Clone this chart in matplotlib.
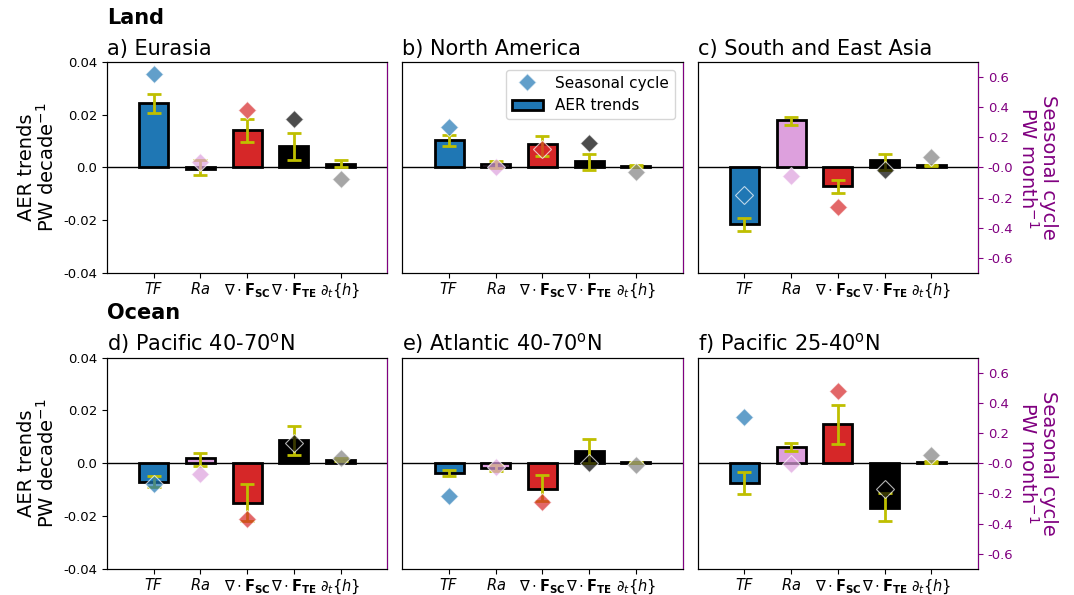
import numpy as np
import matplotlib
matplotlib.use('Agg')
import matplotlib.pyplot as plt
from matplotlib.lines import Line2D
from matplotlib.patches import Patch

##############
### Data   ###
##############

categories = ['$TF$', '$Ra$', r'$\nabla\cdot\mathbf{F_{SC}}$',
              r'$\nabla\cdot\mathbf{F_{TE}}$', r'$\partial_t\{h\}$']
panel_titles = ['a) Eurasia', 'b) North America', 'c) South and East Asia',
                'd) Pacific 40-70$^{\\rm o}$N', 'e) Atlantic 40-70$^{\\rm o}$N',
                'f) Pacific 25-40$^{\\rm o}$N']
row_titles = ['Land', 'Ocean']

# AER trends (PW decade^-1) and error-bar bounds
aer_trends = [
    [0.0245, -0.0005, 0.0143, 0.0083, 0.0015],
    [0.0106, 0.0013, 0.0090, 0.0025, 0.0006],
    [-0.0215, 0.0179, -0.0071, 0.0029, 0.0008],
    [-0.0070, 0.0018, -0.0149, 0.0088, 0.0013],
    [-0.0037, -0.0018, -0.0098, 0.0047, 0.0003],
    [-0.0076, 0.0061, 0.0149, -0.0169, 0.0004],
]
aer_lo = [
    [0.0206, -0.0029, 0.0098, 0.0028, 0.0003],
    [0.0083, -0.0003, 0.0042, -0.0009, 0.0002],
    [-0.0240, 0.0161, -0.0098, -0.0009, 0.0006],
    [-0.0089, -0.0009, -0.0218, 0.0031, 0.0007],
    [-0.0047, -0.0028, -0.0145, 0.0000, 0.0001],
    [-0.0117, 0.0045, 0.0074, -0.0218, 0.0001],
]
aer_hi = [
    [0.0280, 0.0028, 0.0185, 0.0132, 0.0028],
    [0.0124, 0.0023, 0.0118, 0.0052, 0.0010],
    [-0.0192, 0.0192, -0.0046, 0.0050, 0.0009],
    [-0.0048, 0.0038, -0.0080, 0.0140, 0.0019],
    [-0.0024, -0.0008, -0.0045, 0.0090, 0.0005],
    [-0.0032, 0.0076, 0.0221, -0.0114, 0.0007],
]
# seasonal cycle (PW month^-1)
seasonal = [
    [0.62, 0.038, 0.38, 0.32, -0.078],
    [0.27, 0.0, 0.125, 0.163, -0.027],
    [-0.18, -0.058, -0.26, -0.016, 0.067],
    [-0.14, -0.071, -0.37, 0.134, 0.033],
    [-0.22, -0.027, -0.254, 0.0, -0.01],
    [0.307, -0.004, 0.476, -0.173, 0.056],
]

bar_colors = ['tab:blue', 'plum', 'tab:red', 'black', 'black']
dia_colors = ['tab:blue', 'plum', 'tab:red', 'black', 'gray']

################
### Plotting ###
################

f, axes = plt.subplots(2, 3, figsize=(10.74, 5.95), dpi=100, sharey=True)
f.subplots_adjust(left=0.0996, right=0.9106, top=0.896, bottom=0.044,
                  wspace=0.054, hspace=0.40)

x = np.arange(len(categories))
for i, ax in enumerate(axes.flat):
    tr = np.array(aer_trends[i])
    yerr = [tr - np.array(aer_lo[i]), np.array(aer_hi[i]) - tr]
    ax.bar(x, tr, width=0.62, color=bar_colors, edgecolor='k', linewidth=2, zorder=2)
    ax.errorbar(x, tr, yerr=yerr, fmt='none', ecolor='y', elinewidth=2,
                capsize=5, capthick=2, zorder=3)
    ax.axhline(0, color='k', lw=1, zorder=1)
    ax.set_xlim(-1, 5)
    ax.set_ylim(-0.04, 0.04)
    ax.set_xticks(x)
    ax.set_xticklabels(categories, fontsize=10.5)
    ax.tick_params(axis='x', pad=2.5)
    ax.set_yticks([-0.04, -0.02, 0.0, 0.02, 0.04])
    ax.set_yticklabels(['-0.04', '-0.02', '0.0', '0.02', '0.04'], fontsize=9.5)
    ax.set_title(panel_titles[i], loc='left', fontsize=15, pad=5)

    ax2 = ax.twinx()
    for j in range(len(categories)):
        ax2.plot(x[j], seasonal[i][j], 'D', color=dia_colors[j], alpha=0.7,
                 markersize=9, markeredgecolor='white', markeredgewidth=0.8)
    ax2.set_ylim(-0.7, 0.7)
    ax2.spines['right'].set_color('purple')
    col = i % 3
    if col == 2:
        ax2.set_yticks([-0.6, -0.4, -0.2, 0.0, 0.2, 0.4, 0.6])
        ax2.set_yticklabels(['-0.6', '-0.4', '-0.2', '-0.0', '0.2', '0.4', '0.6'],
                            fontsize=9.5)
        ax2.tick_params(axis='y', colors='purple')
        ax2.set_ylabel('Seasonal cycle\nPW month$^{-1}$', color='purple',
                       fontsize=14, rotation=270, labelpad=32, linespacing=1.0)
    else:
        ax2.set_yticks([])
    if col == 0:
        ax.set_ylabel('AER trends\nPW decade$^{-1}$', fontsize=14, linespacing=1.0)
    else:
        ax.tick_params(axis='y', left=False)

    if i == 1:
        handles = [Line2D([], [], marker='D', ls='none', color='tab:blue', alpha=0.7,
                          markersize=9, markeredgecolor='white'),
                   Patch(facecolor='tab:blue', edgecolor='k', linewidth=2)]
        ax2.legend(handles, ['Seasonal cycle', 'AER trends'], loc='upper right',
                   fontsize=11)

for r in range(2):
    axes[r, 0].text(0, 1.21, row_titles[r], transform=axes[r, 0].transAxes,
                    fontsize=15, fontweight='bold', va='center', ha='left')

f.savefig('out.png', dpi=100)
plt.close(f)
